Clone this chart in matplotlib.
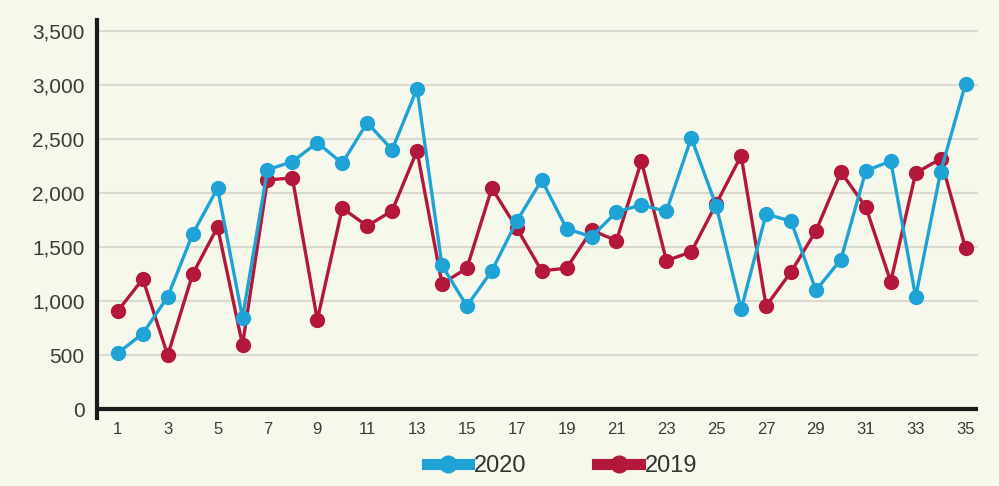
import matplotlib.pyplot as plt

days = list(range(1, 36))
sales_2020 = [520, 700, 1040, 1620, 2045, 845, 2215, 2290, 2465, 2275, 2650, 2400, 2965,
              1330, 955, 1280, 1740, 2120, 1670, 1595, 1825, 1890, 1830, 2510, 1880,
              925, 1805, 1740, 1100, 1385, 2205, 2295, 1040, 2195, 3010]
sales_2019 = [910, 1205, 500, 1250, 1685, 595, 2120, 2140, 825, 1860, 1695, 1835, 2390,
              1160, 1305, 2045, 1675, 1280, 1305, 1655, 1560, 2295, 1375, 1455, 1900,
              2345, 955, 1270, 1650, 2195, 1870, 1180, 2185, 2315, 1490]
yticks = [0, 500, 1000, 1500, 2000, 2500, 3000, 3500]
xticks = list(range(1, 36, 2))

bg = '#f7f8ec'
blue = '#1fa3d6'
red = '#b3183a'

plt.rcParams['font.family'] = ['Liberation Sans', 'DejaVu Sans']

fig = plt.figure(figsize=(9.99, 4.86), dpi=100, facecolor=bg)
ax = fig.add_axes([0.097, 0.140, 0.882, 0.819])
ax.set_facecolor(bg)

for y in yticks:
  if y > 0:
    ax.axhline(y, color='#d9d9d0', lw=1.5, zorder=1)

ax.plot(days, sales_2019, color=red, lw=2.4, marker='o', ms=10, zorder=3, label='2019')
ax.plot(days, sales_2020, color=blue, lw=2.4, marker='o', ms=10, zorder=4, label='2020')

ax.axhline(0, color='#1a1a1a', lw=3, zorder=5)
ax.set_xlim(0.16, 35.5)
ax.set_ylim(-80, 3600)
for s in ['top', 'right', 'bottom']:
  ax.spines[s].set_visible(False)
ax.spines['left'].set_linewidth(3)
ax.spines['left'].set_color('#1a1a1a')

ax.set_yticks(yticks)
ax.set_yticklabels([f'{v:,}' for v in yticks], fontsize=15, color='#3a3a3a')
ax.set_xticks(xticks)
ax.set_xticklabels([str(v) for v in xticks], fontsize=12, color='#3a3a3a')
ax.tick_params(axis='y', length=0, pad=9)
ax.tick_params(axis='x', length=0, pad=3)

handles, labels = ax.get_legend_handles_labels()
fig.legend(handles[::-1], labels[::-1], loc='center', bbox_to_anchor=(0.5625, 0.041),
           ncol=2, frameon=False, fontsize=17, handlelength=1.8, columnspacing=3.0,
           handletextpad=0.2, labelcolor='#333333')
for h in fig.legends[0].get_lines():
  h.set_linewidth(8)
  h.set_markersize(12)

fig.savefig('out.png', dpi=100, facecolor=bg)
